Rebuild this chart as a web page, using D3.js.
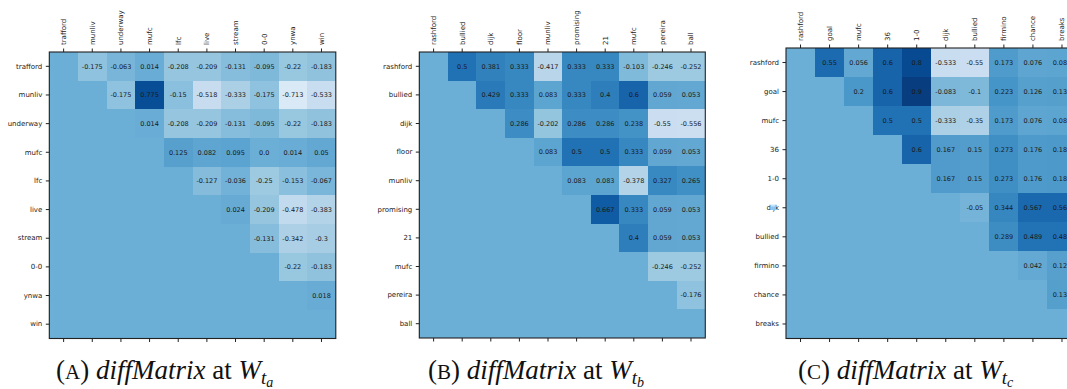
<!DOCTYPE html>
<html>
<head>
<meta charset="utf-8">
<script src="https://cdn.jsdelivr.net/npm/d3@7"></script>
<style>
  html, body { margin: 0; padding: 0; background: #fff; }
  svg { display: block; }
</style>
</head>
<body>
<svg id="fig" width="1067" height="389"></svg>
<script>
// Word lists (row/column order) for each window
const labelsA = ["trafford", "munliv", "underway", "mufc", "lfc", "live", "stream", "0-0", "ynwa", "win"];
const labelsB = ["rashford", "bullied", "dijk", "floor", "munliv", "promising", "21", "mufc", "pereira", "ball"];
const labelsC = ["rashford", "goal", "mufc", "36", "1-0", "dijk", "bullied", "firmino", "chance", "breaks"];

// Upper-triangle differences: row i holds the values for columns i+1 .. n-1
const upperA = [
  [-0.175, -0.063, 0.014, -0.208, -0.209, -0.131, -0.095, -0.22, -0.183],
  [-0.175, 0.775, -0.15, -0.518, -0.333, -0.175, -0.713, -0.533],
  [0.014, -0.208, -0.209, -0.131, -0.095, -0.22, -0.183],
  [0.125, 0.082, 0.095, 0.0, 0.014, 0.05],
  [-0.127, -0.036, -0.25, -0.153, -0.067],
  [0.024, -0.209, -0.478, -0.383],
  [-0.131, -0.342, -0.3],
  [-0.22, -0.183],
  [0.018],
  []
];
const upperB = [
  [0.5, 0.381, 0.333, -0.417, 0.333, 0.333, -0.103, -0.246, -0.252],
  [0.429, 0.333, 0.083, 0.333, 0.4, 0.6, 0.059, 0.053],
  [0.286, -0.202, 0.286, 0.286, 0.238, -0.55, -0.556],
  [0.083, 0.5, 0.5, 0.333, 0.059, 0.053],
  [0.083, 0.083, -0.378, 0.327, 0.265],
  [0.667, 0.333, 0.059, 0.053],
  [0.4, 0.059, 0.053],
  [-0.246, -0.252],
  [-0.176],
  []
];
const upperC = [
  [0.55, 0.056, 0.6, 0.8, -0.533, -0.55, 0.173, 0.076, 0.083],
  [0.2, 0.6, 0.9, -0.083, -0.1, 0.223, 0.126, 0.133],
  [0.5, 0.5, -0.333, -0.35, 0.173, 0.076, 0.083],
  [0.6, 0.167, 0.15, 0.273, 0.176, 0.183],
  [0.167, 0.15, 0.273, 0.176, 0.183],
  [-0.05, 0.344, 0.567, 0.567],
  [0.289, 0.489, 0.489],
  [0.042, 0.125],
  [0.133],
  []
];

// Matplotlib "Blues" colormap, linear through the ColorBrewer anchors, on [-1, 1]
const bluesStops = ["#f7fbff", "#deebf7", "#c6dbef", "#9ecae1", "#6baed6", "#4292c6", "#2171b5", "#08519c", "#08306b"];
const color = d3.scaleLinear()
  .domain(d3.range(bluesStops.length).map(i => -1 + 2 * i / (bluesStops.length - 1)))
  .range(bluesStops)
  .interpolate(d3.interpolateRgb)
  .clamp(true);

const svg = d3.select("#fig");

const panels = [
  { labels: labelsA, upper: upperA, x: 49.3, y: 52.0, size: 286.5, letter: "A", sub: "a", capX: 56 },
  { labels: labelsB, upper: upperB, x: 419.3, y: 52.0, size: 286.0, letter: "B", sub: "b", capX: 428 },
  { labels: labelsC, upper: upperC, x: 786.0, y: 48.0, size: 290.5, letter: "C", sub: "c", capX: 798 }
];

const root = svg.append("g");

panels.forEach(p => {
  const cells = [];
  p.labels.forEach((r, i) => {
    p.labels.forEach((c, j) => {
      const v = j > i ? p.upper[i][j - i - 1] : 0;
      cells.push({ row: r, col: c, v, show: j > i });
    });
  });

  const x = d3.scaleBand().domain(p.labels).range([0, p.size]).padding(0);
  const y = d3.scaleBand().domain(p.labels).range([0, p.size]).padding(0);

  const g = root.append("g").attr("transform", `translate(${p.x},${p.y})`);

  g.selectAll("rect.cell").data(cells).join("rect")
    .attr("class", "cell")
    .attr("x", d => x(d.col))
    .attr("y", d => y(d.row))
    .attr("width", d => Math.min(x.bandwidth() + 1, p.size - x(d.col)))
    .attr("height", d => Math.min(y.bandwidth() + 1, p.size - y(d.row)))
    .attr("shape-rendering", "crispEdges")
    .attr("fill", d => color(d.v));

  g.selectAll("text.val").data(cells.filter(d => d.show)).join("text")
    .attr("class", "val")
    .attr("x", d => x(d.col) + x.bandwidth() / 2)
    .attr("y", d => y(d.row) + y.bandwidth() / 2)
    .attr("dy", "0.35em")
    .attr("text-anchor", "middle")
    .attr("font-family", "DejaVu Sans, sans-serif")
    .attr("font-size", 6.5)
    .attr("fill", "#1a1a1a")
    .text(d => String(d.v === 0 ? "0.0" : d.v));

  // Frame
  g.append("rect")
    .attr("x", 0).attr("y", 0).attr("width", p.size).attr("height", p.size)
    .attr("fill", "none").attr("stroke", "#222").attr("stroke-width", 1.1);

  const styleAxis = sel => {
    sel.select(".domain").remove();
    sel.selectAll(".tick line").attr("stroke", "#222").attr("stroke-width", 1);
    sel.selectAll(".tick text")
      .attr("font-family", "DejaVu Sans, sans-serif")
      .attr("font-size", 7)
      .attr("fill", "#222");
  };

  // Left axis with row labels
  g.append("g")
    .call(d3.axisLeft(y).tickSize(3.5).tickPadding(3.5))
    .call(styleAxis);

  // Top axis with rotated column labels
  const top = g.append("g")
    .call(d3.axisTop(x).tickSize(3.5).tickPadding(3.5))
    .call(styleAxis);
  top.selectAll(".tick text")
    .attr("transform", "rotate(-90)")
    .attr("x", 7)
    .attr("y", 0)
    .attr("dy", "0.35em")
    .attr("text-anchor", "start");

  // Bottom axis: ticks only
  g.append("g")
    .attr("transform", `translate(0,${p.size})`)
    .call(d3.axisBottom(x).tickSize(3.5).tickFormat(""))
    .call(styleAxis);

  // Caption: (X) diffMatrix at W_{t_x}
  const cap = root.append("text")
    .attr("x", p.capX)
    .attr("y", 379)
    .attr("font-family", "Liberation Serif, DejaVu Serif, serif")
    .attr("font-size", 27)
    .attr("fill", "#111");
  cap.append("tspan").text("(");
  cap.append("tspan").attr("font-size", 21).text(p.letter);
  cap.append("tspan").text(") ");
  cap.append("tspan").attr("font-style", "italic").text("diffMatrix");
  cap.append("tspan").text(" at ");
  cap.append("tspan").attr("font-style", "italic").text("W");
  cap.append("tspan").attr("font-style", "italic").attr("font-size", 19).attr("dy", 5).text("t");
  cap.append("tspan").attr("font-style", "italic").attr("font-size", 14).attr("dy", 3).text(p.sub);
});
</script>
</body>
</html>
